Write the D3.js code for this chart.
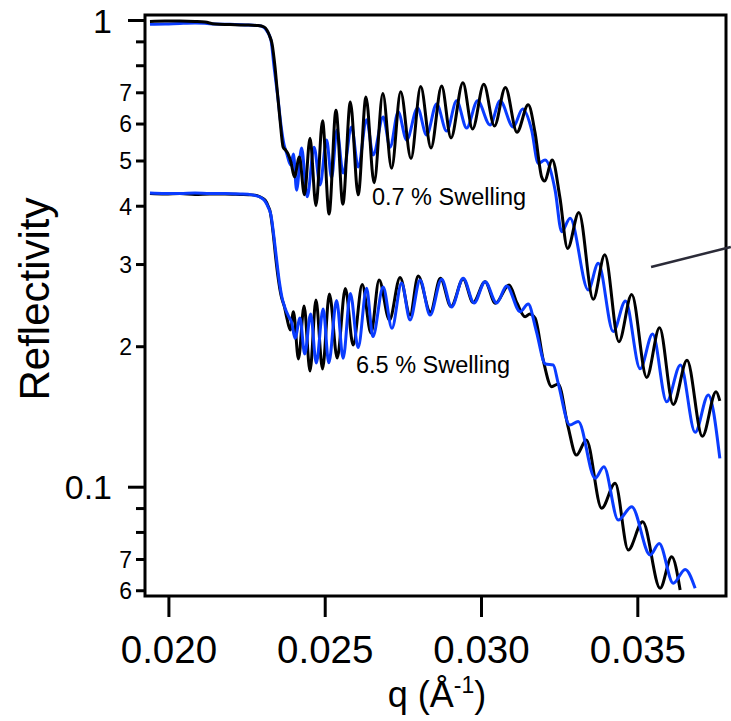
<!DOCTYPE html>
<html>
<head>
<meta charset="utf-8">
<script src="https://cdn.jsdelivr.net/npm/d3@7"></script>
<style>
  body { margin: 0; background: #fff; }
  svg { display: block; font-family: "Liberation Sans", Arial, sans-serif; }
  .axis path.domain { display: none; }
  .axis line { stroke: #000; stroke-width: 3; }
  .axis text { fill: #000; }
</style>
</head>
<body>
<div id="chart"></div>
<script>
// 0.7 % swelling pair, [q, reflectivity]
const swell07Black = [
  [0.01941, 0.993], [0.01989, 0.995], [0.02037, 0.995], [0.02085, 0.993], [0.02117, 0.990],
  [0.02149, 0.980], [0.02197, 0.978], [0.02245, 0.976], [0.02287, 0.973], [0.02306, 0.966],
  [0.02315, 0.952], [0.02325, 0.920], [0.02331, 0.893], [0.02341, 0.793], [0.02347, 0.719],
  [0.02357, 0.611], [0.02367, 0.534], [0.02375, 0.526], [0.02383, 0.516], [0.02392, 0.496],
  [0.02403, 0.461], [0.02419, 0.509], [0.02435, 0.422], [0.02453, 0.558], [0.02472, 0.400],
  [0.02493, 0.608], [0.02514, 0.384], [0.02536, 0.641], [0.02558, 0.403], [0.02582, 0.667],
  [0.02607, 0.422], [0.02632, 0.684], [0.02658, 0.448], [0.02686, 0.696], [0.02714, 0.481],
  [0.02743, 0.702], [0.02776, 0.505], [0.02807, 0.720], [0.02840, 0.532], [0.02874, 0.722],
  [0.02904, 0.559], [0.02942, 0.734], [0.02973, 0.584], [0.03009, 0.728], [0.03043, 0.593],
  [0.03078, 0.717], [0.03115, 0.575], [0.03151, 0.658], [0.03173, 0.573], [0.03194, 0.461],
  [0.03203, 0.452], [0.03228, 0.501], [0.03252, 0.418], [0.03277, 0.324], [0.03313, 0.387],
  [0.03359, 0.252], [0.03396, 0.314], [0.03441, 0.2045], [0.03482, 0.258], [0.03530, 0.1715],
  [0.03571, 0.219], [0.03615, 0.150], [0.03659, 0.1866], [0.03708, 0.1282], [0.03752, 0.1598],
  [0.03764, 0.1527]
];
const swell07Blue = [
  [0.01941, 0.979], [0.01989, 0.980], [0.02037, 0.983], [0.02085, 0.985], [0.02117, 0.984],
  [0.02149, 0.980], [0.02197, 0.979], [0.02245, 0.976], [0.02287, 0.973], [0.02306, 0.964],
  [0.02315, 0.947], [0.02328, 0.906], [0.02338, 0.793], [0.02351, 0.674], [0.02360, 0.596],
  [0.02370, 0.540], [0.02378, 0.519], [0.02391, 0.489], [0.02400, 0.516], [0.02410, 0.432],
  [0.02426, 0.532], [0.02444, 0.418], [0.02466, 0.534], [0.02485, 0.443], [0.02506, 0.553],
  [0.02522, 0.459], [0.02539, 0.581], [0.02559, 0.470], [0.02586, 0.590], [0.02607, 0.484],
  [0.02634, 0.611], [0.02655, 0.514], [0.02687, 0.620], [0.02709, 0.534], [0.02735, 0.635],
  [0.02762, 0.553], [0.02797, 0.648], [0.02826, 0.567], [0.02858, 0.661], [0.02890, 0.578],
  [0.02922, 0.671], [0.02954, 0.587], [0.02989, 0.671], [0.03029, 0.596], [0.03061, 0.671],
  [0.03103, 0.590], [0.03133, 0.645], [0.03162, 0.581], [0.03183, 0.493], [0.03205, 0.501],
  [0.03237, 0.432], [0.03258, 0.352], [0.03285, 0.376], [0.03343, 0.264], [0.03375, 0.301],
  [0.03423, 0.215], [0.03462, 0.250], [0.03509, 0.179], [0.03549, 0.2124], [0.03594, 0.152],
  [0.03638, 0.1823], [0.03685, 0.1308], [0.03727, 0.1573], [0.03764, 0.115]
];

// 6.5 % swelling pair
const swell65Black = [
  [0.01941, 0.425], [0.01989, 0.424], [0.02037, 0.425], [0.02085, 0.423], [0.02133, 0.424],
  [0.02181, 0.424], [0.02229, 0.423], [0.02267, 0.422], [0.02293, 0.418], [0.02309, 0.4114],
  [0.02319, 0.3995], [0.02325, 0.3897], [0.02335, 0.3497], [0.02343, 0.3106], [0.02352, 0.2773],
  [0.02360, 0.2575], [0.02371, 0.2430], [0.02379, 0.2298], [0.02390, 0.2167], [0.02400, 0.2371],
  [0.02416, 0.1878], [0.02434, 0.2438], [0.02453, 0.1770], [0.02472, 0.2512], [0.02493, 0.1788],
  [0.02515, 0.2588], [0.02540, 0.1887], [0.02566, 0.2659], [0.02591, 0.2011], [0.02620, 0.2712],
  [0.02648, 0.2135], [0.02674, 0.2773], [0.02707, 0.2276], [0.02741, 0.2807], [0.02773, 0.2332],
  [0.02799, 0.2828], [0.02838, 0.2367], [0.02870, 0.2796], [0.02904, 0.2432], [0.02943, 0.2786],
  [0.02975, 0.2481], [0.03013, 0.2750], [0.03046, 0.2472], [0.03090, 0.2705], [0.03115, 0.2475],
  [0.03141, 0.2313], [0.03156, 0.2344], [0.03173, 0.2298], [0.03199, 0.1868], [0.03226, 0.1638],
  [0.03247, 0.1660], [0.03278, 0.1349], [0.03305, 0.1169], [0.03337, 0.1259], [0.03386, 0.0899],
  [0.03429, 0.1017], [0.03471, 0.0732], [0.03517, 0.0841], [0.03573, 0.0606], [0.03610, 0.0708],
  [0.03637, 0.0601]
];
const swell65Blue = [
  [0.01941, 0.426], [0.01989, 0.425], [0.02037, 0.425], [0.02085, 0.426], [0.02133, 0.425],
  [0.02181, 0.425], [0.02229, 0.424], [0.02267, 0.422], [0.02293, 0.4175], [0.02309, 0.4093],
  [0.02319, 0.3974], [0.02328, 0.3822], [0.02338, 0.3412], [0.02347, 0.3030], [0.02355, 0.2746],
  [0.02363, 0.2550], [0.02373, 0.2415], [0.02384, 0.2321], [0.02394, 0.2253], [0.02405, 0.2080],
  [0.02421, 0.2298], [0.02436, 0.1925], [0.02455, 0.2344], [0.02473, 0.1841], [0.02495, 0.2403],
  [0.02513, 0.1844], [0.02538, 0.2506], [0.02559, 0.1884], [0.02582, 0.2594], [0.02607, 0.1987],
  [0.02634, 0.2661], [0.02654, 0.2097], [0.02687, 0.2679], [0.02715, 0.2185], [0.02746, 0.2733],
  [0.02773, 0.2276], [0.02805, 0.2773], [0.02837, 0.2332], [0.02874, 0.2782], [0.02906, 0.2427],
  [0.02943, 0.2796], [0.02978, 0.2475], [0.03013, 0.2750], [0.03050, 0.2475], [0.03082, 0.2692],
  [0.03125, 0.2371], [0.03151, 0.2463], [0.03176, 0.2167], [0.03206, 0.1832], [0.03231, 0.1823],
  [0.03247, 0.1665], [0.03284, 0.1356], [0.03311, 0.1380], [0.03365, 0.1042], [0.03393, 0.1104],
  [0.03439, 0.0848], [0.03482, 0.0906], [0.03541, 0.0714], [0.03570, 0.0756], [0.03615, 0.0621],
  [0.03653, 0.0665], [0.03685, 0.0606]
];

// axis ticks
const xTicks = [0.020, 0.025, 0.030, 0.035];
const yMajorTicks = [1, 0.1];
const yMajorLabels = ['1', '0.1'];
const yMinorTicks = [0.9, 0.8, 0.7, 0.6, 0.5, 0.4, 0.3, 0.2, 0.09, 0.08, 0.07, 0.06];
const yMinorLabels = ['', '', '7', '6', '5', '4', '3', '2', '', '', '7', '6'];

// annotations
const notes = [
  { text: '0.7 % Swelling', q: 0.02651, r: 0.4015 },
  { text: '6.5 % Swelling', q: 0.02600, r: 0.1752 }
];
const pointerLine = [[0.03544, 0.2957], [0.03799, 0.3263]];

const W = 731;
const H = 721;
const marginLeft = 145;
const marginTop = 15;
const plotW = 581;
const plotH = 581;

const x = d3.scaleLinear().domain([0.019251, 0.037837]).range([0, plotW]);
const y = d3.scaleLog().domain([0.05832, 1.025]).range([plotH, 0]);

const svg = d3.select('#chart').append('svg')
  .attr('width', W)
  .attr('height', H);

const g = svg.append('g').attr('transform', `translate(${marginLeft},${marginTop})`);

g.append('clipPath').attr('id', 'plot-clip')
  .append('rect').attr('width', plotW).attr('height', plotH);

// y axis, major and minor ticks
const yMajor = g.append('g').attr('class', 'axis')
  .call(d3.axisLeft(y).tickValues(yMajorTicks)
    .tickFormat((d, i) => yMajorLabels[i]).tickSize(17).tickPadding(16));
yMajor.selectAll('text').style('font-size', '34px').attr('dy', '0.36em');

const yMinor = g.append('g').attr('class', 'axis')
  .call(d3.axisLeft(y).tickValues(yMinorTicks)
    .tickFormat((d, i) => yMinorLabels[i]).tickSize(9).tickPadding(4));
yMinor.selectAll('text').style('font-size', '23px').attr('dy', '0.36em');

// x axis
const xAxis = g.append('g').attr('class', 'axis')
  .attr('transform', `translate(0,${plotH})`)
  .call(d3.axisBottom(x).tickValues(xTicks)
    .tickFormat(d3.format('.3f')).tickSize(21).tickPadding(19));
xAxis.selectAll('text').style('font-size', '38.5px');

// frame
g.append('rect')
  .attr('width', plotW).attr('height', plotH)
  .attr('fill', 'none').attr('stroke', '#000').attr('stroke-width', 3);

// curves
const line = d3.line()
  .x(d => x(d[0]))
  .y(d => y(d[1]))
  .curve(d3.curveMonotoneX);

const series = [
  { data: swell07Blue, color: '#0a3cff' },
  { data: swell07Black, color: '#000' },
  { data: swell65Black, color: '#000' },
  { data: swell65Blue, color: '#0a3cff' }
];

g.append('g').attr('clip-path', 'url(#plot-clip)')
  .selectAll('path')
  .data(series)
  .enter()
  .append('path')
  .attr('d', d => line(d.data))
  .attr('fill', 'none')
  .attr('stroke', d => d.color)
  .attr('stroke-width', 3)
  .attr('stroke-linejoin', 'round');

// notes
g.selectAll('.note')
  .data(notes)
  .enter()
  .append('text')
  .attr('class', 'note')
  .attr('x', d => x(d.q))
  .attr('y', d => y(d.r))
  .style('font-size', '23.5px')
  .text(d => d.text);

g.append('path')
  .attr('d', d3.line().x(d => x(d[0])).y(d => y(d[1]))(pointerLine))
  .attr('stroke', '#2b2b38')
  .attr('stroke-width', 2.5);

// axis titles
svg.append('text')
  .attr('transform', 'translate(49,299) rotate(-90)')
  .attr('text-anchor', 'middle')
  .style('font-size', '42px')
  .text('Reflectivity');

const xTitle = svg.append('text')
  .attr('x', 437)
  .attr('y', 707)
  .attr('text-anchor', 'middle')
  .style('font-size', '36px');
xTitle.append('tspan').text('q (Å');
xTitle.append('tspan').attr('dy', -14).style('font-size', '23px').text('-1');
xTitle.append('tspan').attr('dy', 14).text(')');
</script>
</body>
</html>
